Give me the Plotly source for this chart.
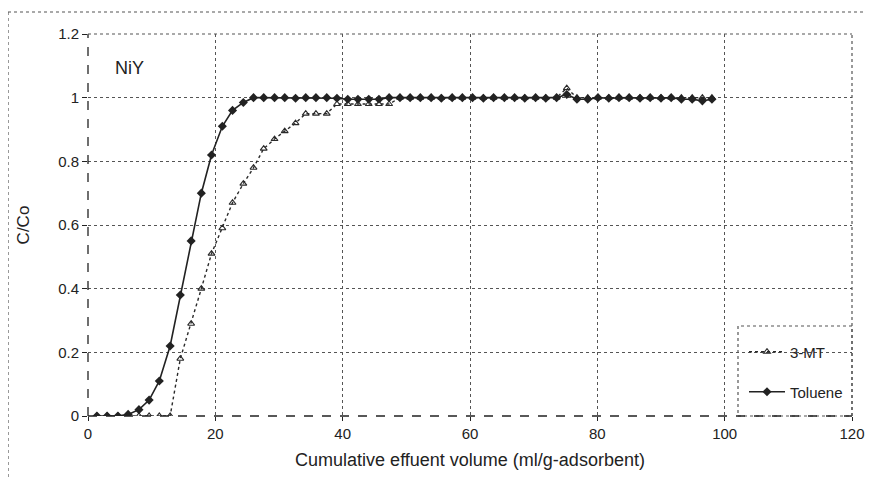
import plotly.graph_objects as go

# Cumulative effluent volume (ml/g-adsorbent)
volume = [1.4, 3.0, 4.7, 6.3, 8.0, 9.6, 11.2, 12.9, 14.5, 16.2,
          17.8, 19.4, 21.1, 22.7, 24.4, 26.0, 27.6, 29.3, 30.9, 32.6,
          34.2, 35.8, 37.5, 39.1, 40.8, 42.4, 44.1, 45.7, 47.3, 49.0,
          50.6, 52.2, 53.9, 55.5, 57.2, 58.8, 60.4, 62.1, 63.7, 65.4,
          67.0, 68.6, 70.3, 71.9, 73.6, 75.2, 76.8, 78.5, 80.1, 81.8,
          83.4, 85.0, 86.7, 88.3, 90.0, 91.6, 93.2, 94.9, 96.5, 98.0]

toluene = [0, 0, 0, 0.005, 0.02, 0.05, 0.11, 0.22, 0.38, 0.55,
           0.70, 0.82, 0.91, 0.96, 0.985, 1.0, 1.0, 1.0, 1.0, 0.998,
           1.0, 1.0, 1.0, 0.998, 0.995, 0.995, 0.995, 0.995, 1.0, 1.0,
           1.0, 1.0, 1.0, 0.998, 1.0, 1.0, 1.0, 0.998, 1.0, 1.0,
           1.0, 0.998, 1.0, 0.998, 1.0, 1.01, 0.995, 0.995, 1.0, 0.998,
           1.0, 1.0, 0.998, 1.0, 0.998, 1.0, 0.995, 0.995, 0.99, 0.995]

mt3 = [0, 0, 0, 0, 0, 0, 0, 0, 0.18, 0.29,
       0.40, 0.51, 0.59, 0.67, 0.73, 0.78, 0.84, 0.87, 0.895, 0.92,
       0.95, 0.95, 0.95, 0.98, 0.98, 0.98, 0.98, 0.98, 0.98, 1.0,
       1.0, 1.0, 1.0, 1.0, 1.0, 1.0, 1.0, 1.0, 1.0, 1.0,
       1.0, 1.0, 1.0, 1.0, 1.0, 1.03, 1.0, 1.0, 1.0, 1.0,
       1.0, 1.0, 1.0, 1.0, 1.0, 1.0, 1.0, 1.0, 1.0, 1.0]

x_ticks = [0, 20, 40, 60, 80, 100, 120]
y_ticks = [0, 0.2, 0.4, 0.6, 0.8, 1, 1.2]
y_tick_text = ["0", "0.2", "0.4", "0.6", "0.8", "1", "1.2"]

FONT = "Liberation Sans, Arial, sans-serif"
INK = "#222222"
GRID = "#555555"

# figure is rendered with an 8px page margin, so geometry is offset
W, H = 865, 472
L, R, T, B = 80, 21, 26, 64
PW, PH = W - L - R, H - T - B


def px(xs):
    return (xs - 8 - L) / PW


def py(ys):
    return (T + PH - (ys - 8)) / PH


fig = go.Figure()
fig.add_trace(go.Scatter(
    x=volume, y=mt3, name="3-MT", mode="lines+markers", legend="legend",
    line=dict(color="#2a2a2a", width=1.4, dash="dot"),
    marker=dict(symbol="triangle-up-open", size=6, color="#2a2a2a",
                line=dict(width=1.1, color="#2a2a2a")),
))
fig.add_trace(go.Scatter(
    x=volume, y=toluene, name="Toluene", mode="lines+markers", legend="legend2",
    line=dict(color=INK, width=1.6),
    marker=dict(symbol="diamond", size=7, color=INK),
))

shapes = [
    dict(type="line", xref="x domain", yref="y domain", x0=0, x1=0, y0=0, y1=1,
         line=dict(color=INK, width=1.3, dash="dash")),
    dict(type="line", xref="x domain", yref="y domain", x0=0, x1=1, y0=0, y1=0,
         line=dict(color=INK, width=1.3, dash="dash")),
    dict(type="line", xref="x domain", yref="y domain", x0=0, x1=1, y0=1, y1=1,
         line=dict(color=GRID, width=1.2, dash="dot")),
    dict(type="line", xref="x domain", yref="y domain", x0=1, x1=1, y0=0, y1=1,
         line=dict(color=GRID, width=1.2, dash="dot")),
    # legend dotted box
    dict(type="rect", xref="paper", yref="paper",
         x0=px(738), x1=1.0, y0=0.0, y1=py(326),
         line=dict(color=GRID, width=1.2, dash="dot"), fillcolor="white",
         layer="below"),
    # outer chart frame (dotted)
    dict(type="line", xref="paper", yref="paper",
         x0=px(8), x1=px(866), y0=py(12), y1=py(12),
         line=dict(color=GRID, width=1.2, dash="dot")),
    dict(type="line", xref="paper", yref="paper",
         x0=px(8), x1=px(8), y0=py(12), y1=py(482),
         line=dict(color=GRID, width=1.2, dash="dot")),
]

legend_common = dict(xanchor="left", yanchor="middle",
                     bgcolor="rgba(0,0,0,0)", borderwidth=0, itemwidth=36,
                     font=dict(size=15, family=FONT, color=INK))

fig.update_layout(
    width=W, height=H,
    margin=dict(l=L, r=R, t=T, b=B, autoexpand=False),
    paper_bgcolor="white", plot_bgcolor="white",
    font=dict(family=FONT, color=INK, size=15),
    showlegend=True,
    legend=dict(x=px(744), y=py(352), **legend_common),
    legend2=dict(x=px(744), y=py(392), **legend_common),
    shapes=shapes,
    annotations=[dict(text="NiY", x=px(113), y=py(68), xref="paper", yref="paper",
                      xanchor="left", yanchor="middle", showarrow=False,
                      font=dict(size=18, family=FONT, color=INK))],
    xaxis=dict(range=[0, 120], tickvals=x_ticks, showgrid=True,
               griddash="dot", gridcolor=GRID, gridwidth=1.2,
               zeroline=False, showline=False,
               ticks="outside", ticklen=4, tickcolor=INK,
               tickfont=dict(size=15, family=FONT, color=INK),
               title=dict(text="Cumulative effuent volume (ml/g-adsorbent)",
                          font=dict(size=18, family=FONT, color=INK),
                          standoff=12)),
    yaxis=dict(range=[0, 1.2], tickvals=y_ticks, ticktext=y_tick_text,
               showgrid=True, griddash="dot", gridcolor=GRID, gridwidth=1.2,
               zeroline=False, showline=False,
               ticks="outside", ticklen=5, tickcolor=INK,
               tickfont=dict(size=15, family=FONT, color=INK),
               title=dict(text="C/Co",
                          font=dict(size=17, family=FONT, color=INK),
                          standoff=24)),
)

fig.write_html("out.html")
